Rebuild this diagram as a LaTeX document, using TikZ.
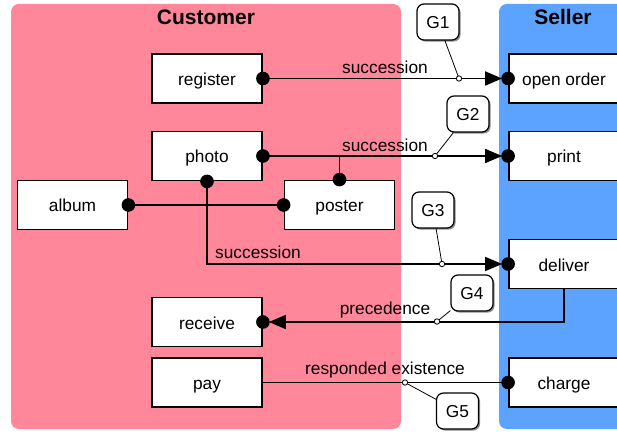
\documentclass[tikz,border=0pt]{standalone}
\usepackage{fontspec}
\setmainfont{Liberation Sans}
\usetikzlibrary{arrows.meta,shadows}
\definecolor{custpink}{RGB}{255,135,153}
\definecolor{sellblue}{RGB}{92,162,255}
\begin{document}
\begin{tikzpicture}[x=1pt,y=-1pt,
  lane/.style={rounded corners=8pt},
  lanetitle/.style={font=\bfseries\fontsize{21}{24}\selectfont, inner sep=0pt},
  task/.style={draw, line width=1.8pt, fill=white, minimum width=110pt,
    minimum height=49pt, inner sep=0pt, text height=14pt, text depth=0pt,
    font=\fontsize{17.3}{20}\selectfont},
  gbox/.style={draw, line width=1.2pt, fill=white, rounded corners=7pt,
    minimum width=42pt, minimum height=36pt, inner sep=0pt,
    text height=12.5pt, text depth=0pt,
    font=\fontsize{17.3}{20}\selectfont,
    drop shadow={shadow xshift=1.6pt, shadow yshift=-1.6pt, fill=black, opacity=0.45}},
  conn/.style={line width=1.8pt},
  tip/.style={-{Triangle[length=17pt,width=14pt]}, shorten >=6pt},
  lbl/.style={font=\fontsize{17.3}{20}\selectfont, inner sep=0pt},
  gline/.style={line width=0.8pt},
  gdot/.style={line width=0.8pt, draw, fill=white},
]
\clip (0,0) rectangle (617,435);

% swimlanes
\fill[custpink, lane] (11,4) rectangle (401,429);
\fill[sellblue, lane] (499,4) rectangle (640,429);
\node[lanetitle] (custT) at (206,17) {Customer};
\node[lanetitle] (sellT) at (563,17) {Seller};

% customer activities
\node[task] (register) at (207,78.5) {register};
\node[task] (photo)    at (207,156)  {photo};
\node[task] (album)    at (72.5,205) {album};
\node[task] (poster)   at (339.5,205) {poster};
\node[task] (receive)  at (207,322)  {receive};
\node[task] (pay)      at (207,382.5) {pay};

% seller activities
\node[task] (open)    at (564,78.5) {open order};
\node[task] (print)   at (564,156)  {print};
\node[task] (deliver) at (564,264)  {deliver};
\node[task] (charge)  at (564,382.5) {charge};

% constraints
\draw[conn, tip] (register.east) -- (open.west);
\draw[conn, tip] (photo.east) -- (print.west);
\draw[conn] (poster.north) -- (poster.north |- photo.east);
\draw[conn] (album.east) -- (poster.west);
\draw[conn, tip] (photo.south) |- (deliver.west);
\draw[conn, tip] (deliver.south) |- (receive.east);
\draw[conn] (pay.east) -- (charge.west);

% connector dots
\foreach \p in {register.east, open.west, photo.east, print.west, photo.south,
  album.east, poster.west, poster.north, deliver.west, receive.east, charge.west}
  \fill (\p) circle (6.8pt);

% constraint labels
\node[lbl] (l1) at (385,67)  {succession};
\node[lbl] (l2) at (385,145.5) {succession};
\node[lbl] (l3) at (258,252) {succession};
\node[lbl] (l4) at (385,310) {precedence};
\node[lbl] (l5) at (385,370) {responded existence};

% group markers
\coordinate (c1) at (459,78.5);
\coordinate (c2) at (435,156);
\coordinate (c3) at (442,264);
\coordinate (c4) at (437,321.5);
\coordinate (c5) at (405,382.5);
\node[gbox] (G1) at (438,22)  {G1};
\node[gbox] (G2) at (468,114) {G2};
\node[gbox] (G3) at (433,210) {G3};
\node[gbox] (G4) at (472,293) {G4};
\node[gbox] (G5) at (457.5,411) {G5};
\draw[gline] (G1) -- (c1);
\draw[gline] (G2) -- (c2);
\draw[gline] (G3) -- (c3);
\draw[gline] (G4) -- (c4);
\draw[gline] (G5) -- (c5);
\foreach \c in {c1,c2,c3,c4,c5}
  \draw[gdot] (\c) circle (2.7pt);
\end{tikzpicture}
\end{document}
